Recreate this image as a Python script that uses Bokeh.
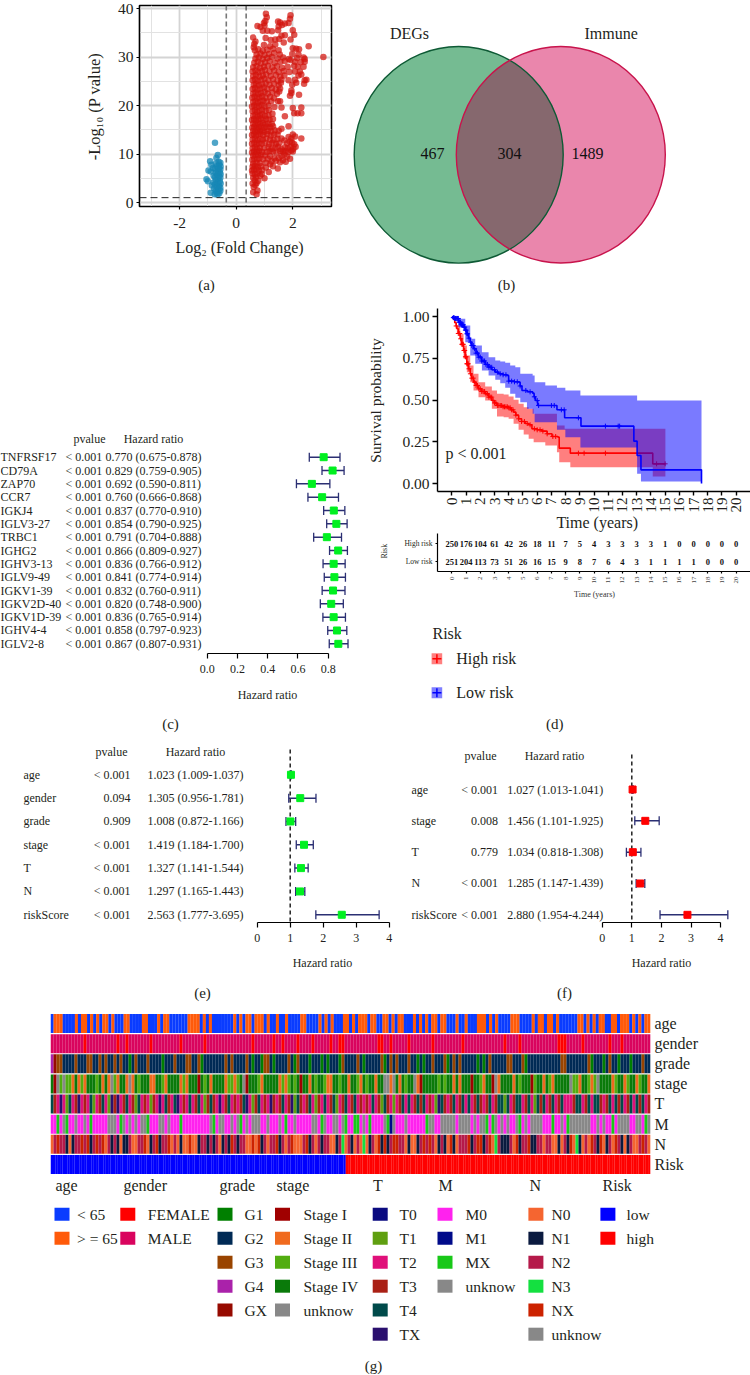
import math
import numpy as np
from bokeh.plotting import figure
from bokeh.layouts import column, row
from bokeh.models import FixedTicker, Grid, Label, LinearAxis, Span, NumeralTickFormatter
from bokeh.core.properties import value
from bokeh.embed import file_html
from bokeh.resources import INLINE

SERIF = "Liberation Serif"
INK = "#231f20"

# ---------------- (a) volcano ----------------
red_points = [
(0.60,2.1),(0.72,1.7),(0.75,2.5),(0.62,3.2),(0.68,3.6),(0.58,3.9),(0.72,4.0),(0.65,4.6),(0.78,4.5),(0.60,5.1),(0.70,5.2),(0.85,5.5),(1.00,5.0),(0.66,5.8),(0.58,6.0),(0.75,6.0),(0.90,5.9),
(0.56,6.6),(0.62,6.8),(0.70,6.9),(0.80,6.6),(0.92,6.7),(1.15,6.3),(1.47,7.0),(0.58,7.4),(0.66,7.6),(0.76,7.3),(0.88,7.5),(1.05,7.2),(1.30,7.5),(1.20,7.9),(0.60,8.0),(0.72,8.2),(0.84,8.1),(1.05,8.2),(1.40,8.6),(1.55,8.3),(1.75,8.4),(1.65,8.7),(1.25,8.5),
(0.57,8.8),(0.64,9.0),(0.74,8.9),(0.82,9.1),(0.95,8.9),(1.12,9.0),(1.35,9.1),(1.50,9.2),(1.90,9.0),(1.80,9.5),(1.60,9.6),(1.70,9.9),(1.20,9.6),(1.02,9.7),(0.60,9.7),(0.68,9.9),(0.78,9.8),(0.88,9.9),
(0.56,10.3),(0.63,10.5),(0.72,10.4),(0.80,10.6),(0.92,10.4),(1.08,10.4),(1.18,10.6),(1.30,10.5),(1.42,10.3),(1.55,10.6),(1.65,10.5),(1.75,10.6),(1.85,10.4),(1.95,10.7),(2.00,10.5),(2.10,11.5),
(0.58,11.2),(0.66,11.4),(0.74,11.1),(0.84,11.3),(0.98,11.2),(1.14,11.4),(1.26,11.1),(1.38,11.3),(1.48,11.5),(1.60,11.0),(1.72,11.4),(1.82,11.2),(1.92,11.5),(2.02,11.1),(2.05,12.0),
(0.56,12.1),(0.64,12.3),(0.72,12.0),(0.80,12.2),(0.90,12.1),(1.02,12.3),(1.16,12.0),(1.28,12.3),(1.40,12.1),(1.52,12.2),(1.70,12.8),(1.80,12.2),(1.90,12.6),(1.98,12.3),(2.30,13.2),
(0.58,13.0),(0.66,13.2),(0.75,12.9),(0.84,13.1),(0.94,13.0),(1.06,13.2),(1.20,13.0),(1.32,12.9),(1.46,13.1),(1.60,13.2),(1.85,13.5),(1.95,13.2),(2.00,14.0),(2.08,13.6),
(0.56,13.9),(0.62,14.1),(0.70,13.8),(0.78,14.0),(0.86,14.2),(0.96,13.9),(1.10,14.1),(1.22,13.8),(1.34,14.0),(1.46,14.0),(0.60,14.8),(0.68,14.6),(0.76,14.9),(0.84,14.7),(0.92,14.9),(1.00,14.6),(1.12,14.8),(1.24,14.7),(1.36,14.9),(1.50,14.8),(1.60,15.2),(1.85,15.7),
(0.57,15.4),(0.64,15.6),(0.72,15.3),(0.80,15.5),(0.88,15.7),(0.98,15.4),(1.08,15.6),(1.20,15.5),(1.30,15.7),(0.60,16.3),(0.68,16.1),(0.76,16.4),(0.84,16.2),(0.94,16.4),(1.04,16.1),(1.14,16.3),(1.26,16.2),
(0.56,17.0),(0.63,17.2),(0.70,16.9),(0.78,17.1),(0.86,17.3),(0.96,17.0),(1.06,17.2),(1.18,17.1),(1.30,17.2),(1.72,17.8),(0.60,17.9),(0.68,18.1),(0.76,17.8),(0.84,18.0),(0.92,18.2),(1.02,17.9),(1.14,18.0),(1.28,18.3),
(2.05,18.4),(2.17,18.4),(2.30,18.4),(0.58,18.8),(0.66,19.0),(0.74,18.7),(0.82,18.9),(0.92,19.1),(1.04,18.9),(1.16,19.0),(2.00,19.5),(2.30,19.6),(1.60,19.6),(1.35,19.7),
(0.56,19.8),(0.64,20.0),(0.72,19.7),(0.80,19.9),(0.90,20.1),(1.00,19.8),(1.14,20.0),(1.48,20.9),(1.55,20.9),(0.60,20.7),(0.68,20.9),(0.76,20.6),(0.86,20.8),(0.96,21.0),(1.08,20.8),(1.24,20.9),
(0.57,21.6),(0.65,21.8),(0.74,21.5),(0.82,21.7),(0.92,21.9),(1.04,21.6),(1.20,21.8),(1.34,21.5),(1.90,22.0),(1.95,22.6),(2.22,22.2),(0.60,22.5),(0.68,22.7),(0.78,22.4),(0.88,22.6),(1.00,22.8),(1.12,22.5),(1.28,22.7),(1.44,22.4),(1.52,22.9),
(0.58,23.4),(0.66,23.6),(0.76,23.3),(0.86,23.5),(0.98,23.7),(1.10,23.4),(1.26,23.6),(1.40,23.3),(1.55,23.5),(1.95,23.1),(0.62,24.3),(0.70,24.5),(0.80,24.2),(0.92,24.4),(1.04,24.6),(1.18,24.3),(1.34,24.5),(1.50,24.2),(1.58,24.7),(1.98,24.3),(2.12,24.7),(2.40,24.5),
(0.58,25.2),(0.66,25.4),(0.76,25.1),(0.88,25.3),(1.00,25.5),(1.14,25.2),(1.30,25.4),(1.46,25.1),(1.60,25.3),(1.85,25.2),(2.08,25.3),(2.42,25.2),(2.48,25.3),(0.60,26.1),(0.70,26.3),(0.82,26.0),(0.94,26.2),(1.06,26.4),(1.22,26.1),(1.40,26.3),(1.56,26.0),(1.70,26.2),(2.20,26.2),(2.30,26.4),
(0.58,27.0),(0.68,27.2),(0.78,26.9),(0.90,27.1),(1.02,27.3),(1.18,27.0),(1.34,27.2),(1.50,26.9),(1.68,27.1),(1.88,26.9),(2.08,27.0),(2.25,27.0),(0.60,27.9),(0.72,28.1),(0.84,27.8),(0.98,28.0),(1.12,28.2),(1.28,27.9),(1.44,28.1),(1.62,27.8),(1.82,28.0),(2.05,28.2),(2.18,28.0),(2.38,28.0),
(0.64,28.8),(0.76,29.0),(0.88,28.7),(1.02,28.9),(1.18,29.1),(1.36,28.8),(1.56,29.0),(1.72,29.2),(1.92,29.4),(2.08,29.0),(2.28,28.9),(2.42,29.0),(0.68,29.7),(0.80,29.9),(0.94,29.6),(1.10,29.8),(1.26,30.0),(1.46,29.7),(1.66,29.9),(1.86,29.6),(2.15,29.8),(2.38,29.9),(2.42,29.6),(3.08,30.0),
(0.72,30.5),(0.86,30.7),(1.00,30.4),(1.16,30.6),(1.34,30.8),(1.54,30.5),(1.98,30.6),(2.20,30.5),(0.66,31.4),(0.78,31.6),(0.94,31.3),(1.10,31.5),(1.30,31.7),(1.50,31.4),(2.00,31.8),(2.12,31.7),(2.22,31.6),(2.56,32.2),
(0.62,32.0),(0.98,32.5),(1.20,32.2),(1.38,32.6),(0.68,33.2),(0.64,32.7),(1.22,33.5),(1.38,33.6),(1.52,33.7),(1.92,33.6),(0.60,34.0),(1.04,33.9),(1.60,34.4),(1.72,34.5),(1.68,33.0),(2.05,34.6),(2.00,35.5),(1.48,35.5),(0.94,35.4),(1.10,35.4),(1.26,35.3),
(0.75,36.4),(0.86,36.2),(1.00,36.5),(1.50,36.3),(1.55,37.1),(1.62,36.6),(1.72,36.9),(1.85,37.0),(1.48,37.3),(1.90,37.9),(1.92,38.6),(1.03,37.4),(1.05,38.9),(1.08,38.2),(0.98,37.0),
]
blue_points = [
(-0.75,12.3),(-0.65,9.8),(-0.70,9.2),(-0.92,8.5),(-0.62,8.4),(-0.56,8.2),(-0.72,8.0),(-0.88,7.8),(-0.60,7.8),(-0.55,7.4),(-0.68,7.5),(-0.82,7.1),
(-0.62,7.0),(-0.56,6.8),(-0.75,6.9),(-0.98,6.6),(-0.90,6.4),(-0.65,6.4),(-0.58,6.2),(-0.72,6.1),(-0.55,5.8),(-0.68,5.7),(-0.80,5.5),(-0.60,5.4),
(-0.75,5.2),(-0.56,5.1),(-0.65,4.9),(-1.05,4.8),(-1.00,4.4),(-0.72,4.6),(-0.58,4.4),(-0.80,4.1),(-0.66,4.0),(-0.55,3.9),(-0.75,3.7),(-0.86,3.5),
(-0.60,3.4),(-0.68,3.2),(-0.56,3.0),(-0.78,2.9),(-0.64,2.7),(-0.72,2.4),(-0.56,2.4),(-0.90,2.0),(-0.68,2.0),(-0.60,1.9),(-0.76,1.7),(-0.66,1.6),
]

# ---------------- (b) Venn ----------------
venn_names = ["DEGs", "Immune"]
venn_counts = ["467", "304", "1489"]

# ---------------- (c) (e) (f) forests ----------------
c_names = ["TNFRSF17","CD79A","ZAP70","CCR7","IGKJ4","IGLV3-27","TRBC1","IGHG2","IGHV3-13","IGLV9-49","IGKV1-39","IGKV2D-40","IGKV1D-39","IGHV4-4","IGLV2-8"]
c_p = ["< 0.001"]*15
c_hr = [0.770,0.829,0.692,0.760,0.837,0.854,0.791,0.866,0.836,0.841,0.832,0.820,0.836,0.858,0.867]
c_lo = [0.675,0.759,0.590,0.666,0.770,0.790,0.704,0.809,0.766,0.774,0.760,0.748,0.765,0.797,0.807]
c_hi = [0.878,0.905,0.811,0.868,0.910,0.925,0.888,0.927,0.912,0.914,0.911,0.900,0.914,0.923,0.931]
e_names = ["age","gender","grade","stage","T","N","riskScore"]
e_p = ["< 0.001","0.094","0.909","< 0.001","< 0.001","< 0.001","< 0.001"]
e_hr = [1.023,1.305,1.008,1.419,1.327,1.297,2.563]
e_lo = [1.009,0.956,0.872,1.184,1.141,1.165,1.777]
e_hi = [1.037,1.781,1.166,1.700,1.544,1.443,3.695]
f_names = ["age","stage","T","N","riskScore"]
f_p = ["< 0.001","0.008","0.779","< 0.001","< 0.001"]
f_hr = [1.027,1.456,1.034,1.285,2.880]
f_lo = [1.013,1.101,0.818,1.147,1.954]
f_hi = [1.041,1.925,1.308,1.439,4.244]

# ---------------- (d) survival ----------------
hi_t = [0,.1,.2,.3,.35,.45,.58,.7,.82,.93,1.05,1.17,1.29,1.4,1.52,1.7,1.87,2.1,2.34,2.6,2.81,3.0,3.17,3.6,3.99,4.15,4.34,4.5,4.69,4.9,5.15,5.4,5.63,6.0,6.33,6.7,7.04,7.46,7.55,8.33,14.13,15.02]
hi_s = [1,.985,.965,.945,.928,.90,.868,.835,.798,.76,.718,.688,.658,.632,.608,.588,.568,.552,.538,.518,.498,.483,.468,.46,.454,.442,.428,.41,.388,.372,.36,.352,.328,.322,.314,.298,.282,.278,.212,.182,.118,.118]
lo_t = [0,.1,.2,.47,.65,.82,.93,1.05,1.17,1.29,1.4,1.52,1.7,1.87,2.1,2.34,2.6,2.81,3.05,3.28,3.6,3.87,3.99,4.4,4.69,4.8,4.93,5.3,5.68,5.78,5.87,6.03,7.39,7.93,9.08,12.8,13.03,13.3,17.56]
lo_s = [1,.995,.99,.968,.952,.938,.92,.898,.872,.848,.828,.808,.782,.758,.735,.714,.697,.682,.668,.658,.652,.648,.614,.61,.608,.585,.558,.55,.542,.52,.498,.468,.442,.394,.344,.254,.168,.082,0]
hi_band_t = [0,.35,.58,.82,1.05,1.29,1.52,1.87,2.34,2.81,3.17,3.64,3.99,4.34,4.69,5.05,5.4,5.75,6.57,7.39,7.55,7.93,8.33,14.13,15.02]
hi_band_u = [1,.948,.898,.828,.768,.708,.658,.608,.582,.558,.538,.534,.522,.502,.478,.458,.448,.418,.418,.348,.348,.328,.328,.328,.328]
hi_band_l = [1,.898,.828,.748,.668,.608,.558,.518,.498,.448,.402,.398,.388,.358,.322,.294,.268,.248,.228,.188,.128,.128,.098,.042,.042]
lo_band_t = [0,.467,.94,1.29,1.64,2.11,2.58,3.05,3.4,3.75,4.1,4.46,4.81,5.28,5.68,5.82,6.57,7.39,7.98,9.04,13.03,13.3,17.56]
lo_band_u = [1,.988,.948,.868,.828,.788,.758,.738,.732,.724,.708,.698,.658,.658,.648,.608,.588,.574,.558,.528,.498,.498,.498]
lo_band_l = [1,.938,.848,.768,.718,.678,.648,.622,.602,.574,.538,.514,.488,.448,.418,.368,.368,.322,.278,.216,.058,.012,.012]
hi_cens = [.3,.45,.55,.62,.7,.75,.8,.85,.9,.95,1.0,1.05,1.1,1.15,1.2,1.3,1.4,1.5,1.6,1.7,1.8,1.9,2.0,2.1,2.2,2.3,2.4,2.5,2.6,2.7,2.8,2.9,3.0,3.1,3.2,3.3,3.4,3.5,3.6,3.7,3.8,3.9,4.0,4.1,4.2,4.3,4.5,4.7,4.9,5.1,5.3,5.5,5.8,6.0,6.2,6.4,6.7,7.1,7.3,8.9,9.3,10.8,14.4,15.0]
lo_cens = [.1,.15,.2,.25,.3,.35,.4,.45,.5,.55,.6,.65,.7,.75,.8,.85,.9,.95,1.0,1.05,1.1,1.2,1.3,1.4,1.5,1.6,1.7,1.8,1.9,2.0,2.1,2.2,2.3,2.4,2.5,2.6,2.7,2.8,3.0,3.2,3.4,3.6,3.8,4.0,4.2,4.4,4.6,4.8,5.2,5.5,5.8,6.0,6.1,7.0,7.2,7.7,7.9,8.9,10.8,11.7,11.8]
risk_years = list(range(21))
risk_high = [250,176,104,61,42,26,18,11,7,5,4,3,3,3,3,1,0,0,0,0,0]
risk_low = [251,204,113,73,51,26,16,15,9,8,7,6,4,3,1,1,1,1,0,0,0]

# ---------------- (g) heatmap ----------------
track_names = ["age","gender","grade","stage","T","M","N","Risk"]
tracks = [
 "0111000010110101011010001100001100010110000001111010100000001010110111010010010000110000101010001"
 "1010111011001101011000101010110110001001000111010100001110000101101101000000110101011001101110101011",
 "1111111111101111111111011011111110111111111011111110111111111111111011111101101111011110111110110011"
 "1111111110011011111011111110111111111011111111111110111101111111111110001111101111111101110111111111",
 "3422111121112211212112121101211121111011121112211201111111212111121011022101111210211101110101110211"
 "1121011111201212111211010112111201212111110101211111221112011111111111221111111201110121101110111211",
 "3042422131213332313142133141323331133213333121333032313333122123403332133333121232303313233211332331"
 "3321323313344143132334103333323233131333033213304133331323330233132133333422133212433331233123312331",
 "4325214235232412342153523423142321325243245232423421343252342323452134232532342351432342132423412342"
 "3423232423143212342423434232154323423424234323423441423442342143423423422234423424432342434234243423",
 "0020320030030200000333023030303320003303000200000000032033003032030333003000302003000003302300330320"
 "0220302000032130003000000233003333303333030332023030300320303333000200302333333300303002033330033023",
 "0242210122424124240212101120022401241224020100400122121201214212200404120224120240002412021220012302"
 "1020301204141244220100124242012104102224124412403211120412241122022001021403102042140120421012002420",
 "0"*123 + "1"*127,
]
legend_titles = track_names
legend_labels = [
 ["< 65","> = 65"],
 ["FEMALE","MALE"],
 ["G1","G2","G3","G4","GX"],
 ["Stage I","Stage II","Stage III","Stage IV","unknow"],
 ["T0","T1","T2","T3","T4","TX"],
 ["M0","M1","MX","unknow"],
 ["N0","N1","N2","N3","NX","unknow"],
 ["low","high"],
]
legend_colors = [
 ["#0a3cff","#ff5a0a"],
 ["#ff0000","#d9045e"],
 ["#007f00","#002a55","#994400","#aa22aa","#960a00"],
 ["#a00000","#f06a1e","#52ad10","#0a7a0a","#888888"],
 ["#0a0a80","#5f9f10","#e0107a","#aa2015","#004a4a","#2a0f6e"],
 ["#ff22ee","#000a8a","#18c818","#888888"],
 ["#f56530","#0a1a3f","#b51a4a","#14e040","#cc2200","#888888"],
 ["#0000ff","#ff0000"],
]


def base(w, h, xr, yr, l=0, r=0, t=0, b=0):
    p = figure(width=w, height=h, x_range=xr, y_range=yr, x_axis_type=None, y_axis_type=None,
               toolbar_location=None, output_backend="svg", frame_align=False,
               min_border_left=l, min_border_right=r, min_border_top=t, min_border_bottom=b)
    p.outline_line_color = None
    p.background_fill_color = None
    p.border_fill_color = None
    return p


# full-page transparent sheet for every text that lies outside a panel's frame
sheet = base(750, 1375, (0, 750), (1375, 0))
sheet.styles = {"position": "absolute", "left": "0px", "top": "0px", "pointer-events": "none"}


def label(px, py, s, size=12, align="left", angle=0, weight="normal", color=INK):
    sheet.add_layout(Label(x=px, y=py, x_units="canvas", y_units="canvas", text=s,
                           text_font=SERIF, text_font_size=f"{size}px", text_align=align,
                           text_baseline="middle", angle=angle, text_color=color, text_font_style=weight))


def axis(p, side, ticks, size=12, out=4, standoff=3, bounds=None, width=1.2, overrides=None, orient=None, color=INK):
    a = LinearAxis(ticker=FixedTicker(ticks=ticks), major_tick_out=out, major_tick_in=0,
                   minor_tick_out=0, minor_tick_in=0, major_label_text_font=SERIF,
                   major_label_text_font_size=f"{size}px", major_label_text_color=color,
                   major_label_standoff=standoff, axis_line_color="black", major_tick_line_color="black",
                   axis_line_width=width, major_tick_line_width=width)
    if bounds is not None:
        a.bounds = bounds
    if overrides:
        a.major_label_overrides = overrides
    if orient is not None:
        a.major_label_orientation = orient
    p.add_layout(a, side)
    return a


# ===== (a) =====
X0, XS, Y0, YS = 235.7, 28.3, 202.0, 4.85
a = base(345, 300, ((139 - X0) / XS, (331 - X0) / XS), ((Y0 - 206) / YS, (Y0 - 5) / YS), l=139, r=14, t=5, b=94)
for dim, major, minor in [(0, [-2, 0, 2], [-3, -1, 1, 3]), (1, [0, 10, 20, 30, 40], [5, 15, 25, 35])]:
    a.add_layout(Grid(dimension=dim, ticker=FixedTicker(ticks=major, minor_ticks=minor),
                      grid_line_color="#d4d4d4", grid_line_width=1.8,
                      minor_grid_line_color="#e2e2e2", minor_grid_line_width=1))
a.scatter([q[0] for q in blue_points], [q[1] for q in blue_points], size=6.5, color="#1587b5", alpha=0.75, line_color=None)
a.scatter([q[0] for q in red_points], [q[1] for q in red_points], size=6.5, color="#d2140c", alpha=0.72, line_color=None)
a.add_layout(Span(location=-0.35, dimension="height", line_color="#777777", line_width=1.6, line_dash="5 3"))
a.add_layout(Span(location=0.35, dimension="height", line_color="#222222", line_width=1, line_dash="5 3"))
a.add_layout(Span(location=1.0, dimension="width", line_color="#222222", line_width=1, line_dash="7 4"))
a.outline_line_color = "black"
a.outline_line_width = 1.5
axis(a, "below", [-2, 0, 2], size=15.5, out=3, standoff=8, overrides={-2: "-2"})
axis(a, "left", [0, 10, 20, 30, 40], size=15.5, out=3, standoff=3)
label(239, 247, "Log\u2082 (Fold Change)", 16, "center")
label(94, 106, "-Log\u2081\u2080 (P value)", 16.5, "center", angle=math.pi / 2)
label(206, 284, "(a)", 15, "center")

# ===== (b) =====
b = base(405, 300, (345, 750), (300, 0))
gc, pc, cy, rx, ry = 458.2, 560.3, 154.3, 104.5, 108.3
b.ellipse([gc], [cy], width=2 * rx, height=2 * ry, fill_color="#75bb92", line_color=None)
b.ellipse([pc], [cy], width=2 * rx, height=2 * ry, fill_color="#ea86ac", line_color=None)
half = math.sqrt(1 - ((pc - gc) / 2 / rx) ** 2)
yy = np.linspace(-half, half, 121)
right = gc + rx * np.sqrt(1 - yy ** 2)
left = pc - rx * np.sqrt(1 - yy ** 2)
b.patch(np.r_[right, left[::-1]], cy + ry * np.r_[yy, yy[::-1]], fill_color="#86686e", line_color=None)
b.ellipse([gc], [cy], width=2 * rx, height=2 * ry, fill_color=None, line_color="#0e5a35", line_width=1.4)
b.ellipse([pc], [cy], width=2 * rx, height=2 * ry, fill_color=None, line_color="#c8144c", line_width=1.4)
label(409, 33, venn_names[0], 16, "center")
label(610.7, 33, venn_names[1], 16, "center")
for s, px in zip(venn_counts, [432, 509, 587]):
    label(px, 153, s, 16, "center", color="#111111")
label(506, 284, "(b)", 15, "center")


# ===== forests =====
def forest(w, h, ox, oy, x0, xs, ay, r0, rh, names, pv, hr, lo, hi, name_x, p_x, p_align, hr_x,
           head_y, head_p, head_hr, ticks, colour, size, title_x, title_y, cap, cap_x, cap_y, dash_top=None,
           bounds=None, fmt=None, fs=12):
    xr = ((ox - x0) / xs, (ox + w - x0) / xs)
    yr = ((ay - r0) / rh, (oy - r0) / rh)
    p = base(w, h, xr, yr, b=oy + h - ay)
    X = lambda px: (px - x0) / xs
    rows = list(range(len(names)))
    if dash_top is not None:
        p.segment([1], [(dash_top - r0) / rh], [1], [yr[0]], line_color="#222222", line_width=1.5, line_dash="4 3")
    p.segment(lo, rows, hi, rows, line_color="#2b2f73", line_width=1.5)
    cap_h = 4.5 / rh
    p.segment(lo, [i - cap_h for i in rows], lo, [i + cap_h for i in rows], line_color="#2b2f73", line_width=1.3)
    p.segment(hi, [i - cap_h for i in rows], hi, [i + cap_h for i in rows], line_color="#2b2f73", line_width=1.3)
    p.scatter(hr, rows, marker="square", size=size, color=colour)
    hrtxt = [f"{v:.3f} ({l:.3f}-{u:.3f})" for v, l, u in zip(hr, lo, hi)]
    fnt = dict(text_font=value(SERIF), text_font_size=f"{fs}px", text_color=INK, text_baseline="middle")
    p.text([X(name_x)] * len(rows), rows, text=names, text_align="left", **fnt)
    p.text([X(p_x)] * len(rows), rows, text=pv, text_align=p_align, **fnt)
    p.text([X(hr_x)] * len(rows), rows, text=hrtxt, text_align="left", **fnt)
    label(head_p, head_y, "pvalue", fs, "center")
    label(head_hr, head_y, "Hazard ratio", fs, "center")
    ax = axis(p, "below", ticks, size=fs, out=5, standoff=6, bounds=bounds)
    if fmt:
        ax.formatter = NumeralTickFormatter(format=fmt)
    label(title_x, title_y, "Hazard ratio", fs, "center")
    label(cap_x, cap_y, cap, 15, "center")
    return p


c = forest(360, 435, 0, 300, 206.7, 151.25, 653, 456.7, 13.33, c_names, c_p, c_hr, c_lo, c_hi, 0, 65, "left", 105,
           438, 89, 153, [0, .2, .4, .6, .8], "#00f020", 7, 267, 694, "(c)", 170, 723, bounds=(0, .8), fmt="0.0", fs=12)
e = forest(400, 270, 0, 735, 256.7, 33, 922, 774.3, 23.33, e_names, e_p, e_hr, e_lo, e_hi, 23, 130, "right", 147,
           751, 111, 195, [0, 1, 2, 3, 4], "#00f020", 7, 322, 962, "(e)", 202, 992, dash_top=749, bounds=(0, 4))
f = forest(350, 270, 400, 735, 601.7, 29.6, 922, 789, 31.33, f_names, f_p, f_hr, f_lo, f_hi, 411, 497.5, "right", 506.7,
           755, 480, 554, [0, 1, 2, 3, 4], "#ff0000", 7, 661, 962, "(f)", 564, 992, dash_top=754, bounds=(0, 4))


# ===== (d) survival =====
TX0, TXS = 451.7, 14.2
txr = ((437.3 - TX0) / TXS, (750 - TX0) / TXS)
d1 = base(390, 228, txr, ((483 - 491) / 166.7, (483 - 308) / 166.7), l=77, t=8, b=37)
d1.varea_step(x=hi_band_t, y1=hi_band_l, y2=hi_band_u, step_mode="after", fill_color="#ff0000", fill_alpha=0.5)
d1.step(hi_t, hi_s, mode="after", line_color="#ff0000", line_width=1.6)
d1.scatter(hi_cens, [hi_s[np.searchsorted(hi_t, v, side="right") - 1] for v in hi_cens], marker="cross", size=5, line_color="#ff0000", line_width=1)
d1.varea_step(x=lo_band_t, y1=lo_band_l, y2=lo_band_u, step_mode="after", fill_color="#0000ff", fill_alpha=0.52)
d1.step(lo_t, lo_s, mode="after", line_color="#0000ff", line_width=1.6)
d1.scatter(lo_cens, [lo_s[np.searchsorted(lo_t, v, side="right") - 1] for v in lo_cens], marker="cross", size=5, line_color="#0000ff", line_width=1)
axis(d1, "left", [0, .25, .5, .75, 1], size=15.5, out=5, standoff=3, width=1.4,
     overrides={0: "0.00", 0.25: "0.25", 0.5: "0.50", 0.75: "0.75", 1: "1.00"})
axis(d1, "below", risk_years, size=15, out=4, standoff=2, width=1.4, orient=math.pi / 2)
label(375, 400, "Survival probability", 15.5, "center", angle=math.pi / 2)
label(596.7, 522, "Time (years)", 16, "center")
label(445, 452.5, "p < 0.001", 16, "left")

d2 = base(390, 74, txr, ((571.3 - 561.3) / -18, (561.3 - 533) / 18), l=77, t=5, b=31)
d2.text(risk_years, [1] * 21, text=[str(v) for v in risk_high], text_font=value(SERIF), text_font_size="8.5px",
        text_font_style="bold", text_align="center", text_baseline="middle", text_color="#111111")
d2.text(risk_years, [0] * 21, text=[str(v) for v in risk_low], text_font=value(SERIF), text_font_size="8.5px",
        text_font_style="bold", text_align="center", text_baseline="middle", text_color="#111111")
axis(d2, "left", [0, 1], size=7.5, out=2, standoff=3, overrides={0: "Low risk", 1: "High risk"})
axis(d2, "below", risk_years, size=7, out=2, standoff=3, orient=math.pi / 2, color="#444444")
label(384, 550.7, "Risk", 8, "center", angle=math.pi / 2)
label(594, 594, "Time (years)", 8, "center", color="#333333")

d3 = base(390, 133, (360, 750), (735, 602))
d3.rect([436.4, 436.4], [658.3, 692.3], width=10.6, height=11, fill_color=["#ff0000", "#0000ff"], fill_alpha=0.5, line_color=None)
d3.scatter([436.4, 436.4], [658.3, 692.3], marker="cross", size=9, line_color=["#ff0000", "#0000ff"], line_width=1.5)
label(432, 633, "Risk", 16)
label(455.7, 658, "High risk", 16)
label(455.7, 692, "Low risk", 16)
label(554.3, 723, "(d)", 15, "center")
d_col = column(d1, d2, d3)

# ===== (g) =====
N = 250
g1 = base(750, 171, (0, N), (8, 0), l=50, r=100, t=8, b=2)
for j, tr in enumerate(tracks):
    n = len(tr)
    cols = legend_colors[j]
    g1.quad(left=[i / n * N for i in range(n)], right=[(i + 1) / n * N + 0.05 for i in range(n)],
            top=[j + 0.03] * n, bottom=[j + 0.97] * n,
            fill_color=[cols[int(ch)] for ch in tr], line_color=None)
    label(654, 1023 + j * 20.1, track_names[j], 16)

g2 = base(750, 199, (0, 750), (1375, 1176))
title_x = [55, 123, 219, 276, 372.5, 438, 529, 602]
square_x = [61.5, 127.3, 224.5, 282, 379.7, 444.5, 535.4, 607.4]
text_x = [76.6, 147.3, 244, 303, 399, 465, 551, 626]
row_y = [1213.7, 1237.7, 1261.7, 1285.7, 1309.5, 1333.7]
for j in range(8):
    label(title_x[j], 1185, legend_titles[j], 16)
    k = len(legend_labels[j])
    g2.rect([square_x[j]] * k, row_y[:k], width=15, height=13, fill_color=legend_colors[j], line_color=None)
    for i, s in enumerate(legend_labels[j]):
        label(text_x[j], row_y[i], s, 15.5)
label(373, 1365, "(g)", 15, "center")

page = column(row(a, b), row(c, d_col), row(e, f), g1, g2, sheet,
              styles={"position": "absolute", "left": "0px", "top": "0px"})
open("out.html", "w").write(file_html(page, INLINE))
